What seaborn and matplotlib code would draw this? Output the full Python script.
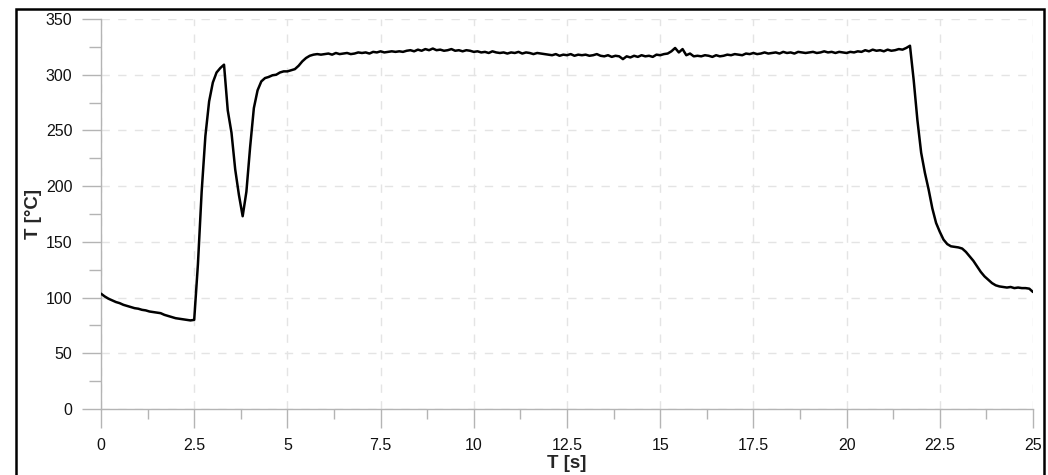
import numpy as np
import pandas as pd
import matplotlib
matplotlib.use("Agg")
import matplotlib.pyplot as plt
from matplotlib.ticker import MultipleLocator, FuncFormatter
from matplotlib.patches import Rectangle
import seaborn as sns

# Sample times [s], 0.1 s spacing
time_s = np.round(np.linspace(0.0, 25.0, 251), 1)

# Measured temperature [°C] at each sample
temp_c = [
    # 0.0 - 2.5
    103.5, 101, 99, 97.5, 96, 95, 93.5, 92.5, 91.5, 90.5,
    90, 89, 88.5, 87.5, 87, 86.5, 86, 84.5, 83.5, 82.5,
    81.5, 81, 80.5, 80, 79.5, 80,
    # 2.6 - 5.9
    130, 195, 245, 276, 293, 302, 306, 309, 268, 248,
    215, 192, 173, 195, 235, 270, 286, 294, 297, 298,
    299.5, 300, 302, 303, 303, 304, 305, 308, 312, 315,
    317, 318, 318.5, 318,
    # 6.0 - 21.6
    318.5, 319, 318, 319.5, 318.5, 319, 319.5, 318.5, 319, 320,
    319.5, 320, 319, 320.5, 320, 321, 320, 320.5, 321, 320.5,
    321, 320.5, 321.5, 322, 321, 322.5, 321.5, 323, 322, 323.5,
    322, 322.5, 321.5, 322, 323, 321.5, 322, 321, 322, 321.5,
    320.5, 321, 320, 320.5, 319.5, 321, 320, 319.5, 320, 319,
    320, 319.5, 320.5, 319, 320, 319.5, 318.5, 319.5, 319, 318.5,
    318, 317.5, 318.5, 317, 318, 317.5, 318.5, 317, 318, 317.5,
    318, 317, 317.5, 318.5, 317, 316.5, 317.5, 316, 317, 316.5,
    314, 316.5, 315.5, 317, 316, 317.5, 316.5, 317, 316, 318,
    317.5, 318.5, 319, 321, 324, 320, 323, 317.5, 319, 316.5,
    317, 316.5, 317.5, 317, 316, 317.5, 316.5, 317, 318, 317.5,
    318.5, 318, 317.5, 319, 318.5, 319.5, 318.5, 319, 320, 319,
    319.5, 320, 319, 320.5, 319.5, 320, 319, 320.5, 320, 319.5,
    320, 320.5, 319.5, 320, 321, 320, 320.5, 319.5, 320.5, 320,
    319.5, 320.5, 320, 321, 320.5, 322, 321, 322.5, 321.5, 322,
    321, 322.5, 321.5, 322, 323, 322.5, 324,
    # 21.7 - 25.0
    326, 295, 259, 230, 212, 197, 180, 167, 159, 152,
    148, 146, 145.5, 145, 144, 141, 137, 133, 128, 123,
    119, 116, 113, 111, 110, 109.5, 109, 109.5, 108.5, 109,
    108.5, 108.5, 108, 105,
]
assert len(temp_c) == len(time_s)

df = pd.DataFrame({"t": time_s, "T": temp_c})

sns.set_theme(style="white")
plt.rcParams["font.family"] = ["Liberation Sans", "DejaVu Sans"]

fig = plt.figure(figsize=(10.48, 4.75), dpi=100)
ax = fig.add_axes([101 / 1048, 1 - 409 / 475, (1033 - 101) / 1048, (409 - 19) / 475])

sns.lineplot(data=df, x="t", y="T", ax=ax, color="black", linewidth=1.8, zorder=3)

ax.set_xlim(0, 25)
ax.set_ylim(0, 350)
ax.xaxis.set_major_locator(MultipleLocator(2.5))
ax.xaxis.set_minor_locator(MultipleLocator(1.25))
ax.yaxis.set_major_locator(MultipleLocator(50))
ax.yaxis.set_minor_locator(MultipleLocator(25))
ax.xaxis.set_major_formatter(FuncFormatter(lambda v, p: f"{v:g}"))
ax.yaxis.set_major_formatter(FuncFormatter(lambda v, p: f"{v:g}"))

tick_gray = "#b4b4b4"
ax.tick_params(axis="both", which="major", direction="out", length=13.5,
               width=1, color=tick_gray, labelsize=11.5, labelcolor="#111111", pad=7)
ax.tick_params(axis="y", which="minor", direction="out", length=8.5, width=1, color=tick_gray)
ax.tick_params(axis="x", which="minor", direction="out", length=7, width=1, color=tick_gray)
ax.tick_params(axis="x", which="major", pad=7.5)
ax.tick_params(left=True, bottom=True, which="both")

for side in ("top", "right"):
    ax.spines[side].set_visible(False)
for side in ("left", "bottom"):
    ax.spines[side].set_color(tick_gray)
    ax.spines[side].set_linewidth(1)

ax.grid(True, which="major", linestyle=(0, (6, 6)), color="#e4e4e4", linewidth=1)
ax.set_axisbelow(True)

ax.set_xlabel("T [s]", fontsize=13.5, fontweight="bold", labelpad=1)
ax.set_ylabel("T [°C]", fontsize=13.5, fontweight="bold", labelpad=3)

# Frame around the whole chart area
fig.patches.append(Rectangle((16 / 1048, -0.05), (1044 - 16) / 1048, 1.05 - 9 / 475,
                             transform=fig.transFigure, fill=False,
                             edgecolor="black", linewidth=1.8, zorder=10))

fig.savefig("out.png", dpi=100)
